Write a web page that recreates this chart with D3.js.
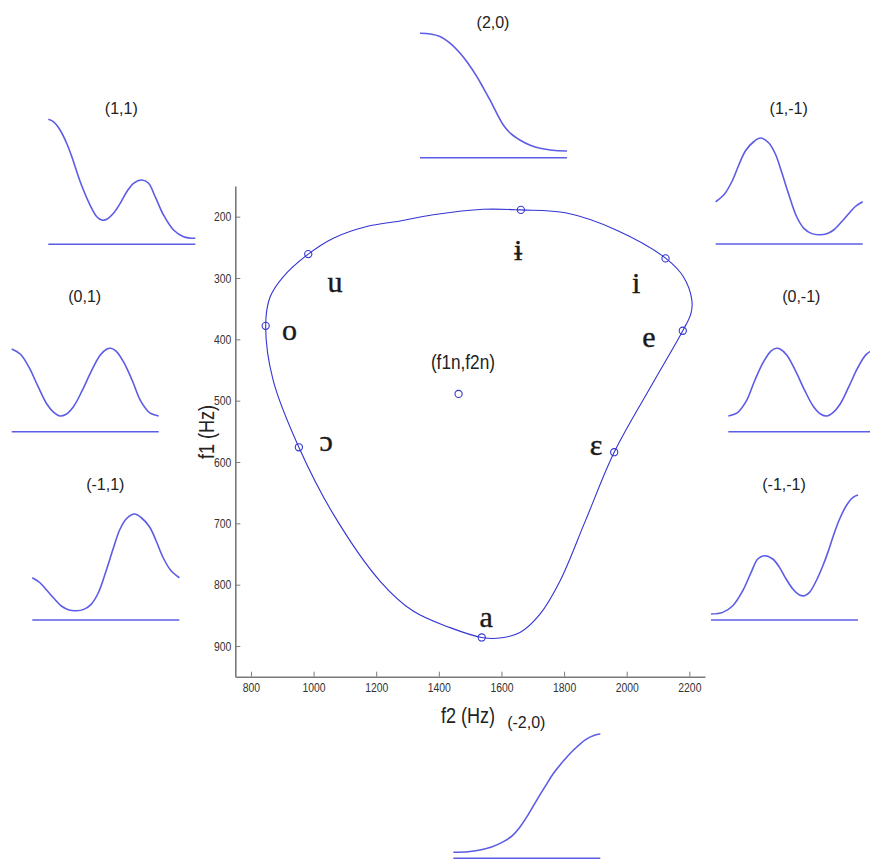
<!DOCTYPE html>
<html>
<head>
<meta charset="utf-8">
<script src="https://cdn.jsdelivr.net/npm/d3@7"></script>
<style>
  body { margin: 0; background: #fff; }
  svg { display: block; }
</style>
</head>
<body>
<svg id="chart" width="870" height="860"></svg>
<script>
// vowel space: f2 on x, f1 on y (inverted)
var xTicks = [800, 1000, 1200, 1400, 1600, 1800, 2000, 2200];
var yTicks = [200, 300, 400, 500, 600, 700, 800, 900];

// measured vowel points (circles), last one is the neutral (f1n,f2n)
var pointF2 = [1662, 983, 847, 953, 1537, 1960, 2179, 2124, 1463];
var pointF1 = [189, 261, 378, 576, 886, 584, 386, 268, 489];

// vowel labels
var vowelLabels = ["ɨ", "u", "i", "o", "e", "ɔ", "ɛ", "a"];
var labelF2 = [1653, 1068, 2030, 923, 2071, 1040, 1902, 1551];
var labelF1 = [271, 323, 325, 401, 412, 582, 588, 869];
var centreLabel = "(f1n,f2n)";
var centreF2 = 1477, centreF1 = 448;

// closed contour traced round the vowels (clockwise from the top)
var contourF2 = [1662, 1808, 1968, 2125, 2181, 2208, 2205, 2179, 2085, 1960, 1868, 1787, 1723, 1659, 1595,
                 1537, 1436, 1318, 1212, 1063, 953, 871, 847, 861, 903, 983, 1063, 1170, 1276, 1382, 1542];
var contourF1 = [189, 194, 222, 268, 298, 336, 358, 386, 470, 584, 696, 794, 848, 878, 887,
                 886, 870, 843, 794, 685, 576, 467, 378, 331, 298, 261, 235, 216, 207, 197, 188];

// small spectral shapes around the chart: [position 0..1, level 0..1]
var panelTitles = ["(2,0)", "(1,1)", "(1,-1)", "(0,1)", "(0,-1)", "(-1,1)", "(-1,-1)", "(-2,0)"];
var curve20 = [[0, .995], [.07, .99], [.136, .97], [.2, .92], [.273, .835], [.33, .75], [.386, .65], [.43, .56],
               [.477, .46], [.52, .36], [.568, .26], [.62, .19], [.682, .14], [.75, .10], [.818, .075], [.9, .06], [1, .054]];
var curve11 = [[0, 1], [.034, .981], [.08, .914], [.125, .808], [.16, .70], [.205, .541], [.239, .434], [.284, .314],
               [.33, .221], [.364, .194], [.398, .2], [.443, .248], [.489, .328], [.534, .421], [.58, .488], [.637, .514],
               [.682, .488], [.727, .381], [.784, .234], [.852, .114], [.92, .061], [1, .048]];
var curve1m1 = [[0, .338], [.06, .40], [.113, .506], [.16, .64], [.203, .746], [.26, .82], [.305, .848], [.36, .81],
                [.406, .72], [.45, .57], [.496, .4], [.55, .22], [.6, .125], [.65, .085], [.7, .074], [.75, .08],
                [.8, .11], [.85, .17], [.903, .24], [.95, .30], [1, .338]];
var curve01 = [[0, .662], [.06, .62], [.12, .51], [.18, .36], [.24, .22], [.29, .15], [.327, .126], [.37, .14],
               [.42, .2], [.48, .33], [.54, .48], [.6, .61], [.645, .66], [.673, .667], [.71, .645], [.76, .56],
               [.82, .41], [.88, .24], [.94, .15], [1, .126]];
var curve0m1 = [[0, .126], [.06, .15], [.12, .24], [.18, .41], [.24, .56], [.29, .645], [.327, .667], [.355, .66],
                [.4, .61], [.46, .48], [.52, .33], [.58, .2], [.63, .14], [.673, .126], [.71, .15], [.76, .22],
                [.82, .36], [.88, .51], [.94, .62], [1, .662]];
var curvem11 = [[0, .338], [.05, .30], [.097, .24], [.15, .17], [.2, .11], [.25, .08], [.3, .074], [.35, .085],
                [.4, .125], [.45, .22], [.504, .4], [.55, .57], [.594, .72], [.64, .81], [.695, .848], [.74, .82],
                [.797, .746], [.84, .64], [.887, .506], [.94, .40], [1, .338]];
var curvem1m1 = [[0, .048], [.08, .061], [.148, .114], [.216, .234], [.273, .381], [.318, .488], [.363, .514],
                 [.42, .488], [.466, .421], [.511, .328], [.557, .248], [.602, .2], [.636, .194], [.67, .221],
                 [.716, .314], [.761, .434], [.795, .541], [.84, .70], [.875, .808], [.92, .914], [.966, .981], [1, 1]];
var curvem20 = [[0, .048], [.1, .052], [.182, .066], [.26, .09], [.341, .133], [.4, .18], [.455, .253], [.51, .35],
                [.568, .466], [.625, .575], [.682, .68], [.75, .78], [.818, .866], [.9, .95], [.96, .985], [1, .994]];
var panelCurves = [curve20, curve11, curve1m1, curve01, curve0m1, curvem11, curvem1m1, curvem20];

var svg = d3.select("#chart");
var blue = "#3434d4", lightBlue = "#5c5ce6";
var sans = "'Liberation Sans', Arial, sans-serif";
var serif = "'Liberation Serif', 'DejaVu Serif', 'Times New Roman', serif";

// the original text is horizontally squeezed
function squeeze(sel, k) {
    sel.each(function () {
        var len = this.getComputedTextLength();
        d3.select(this).attr("textLength", len * k).attr("lengthAdjust", "spacingAndGlyphs");
    });
}

svg.append("rect").attr("width", 870).attr("height", 860).attr("fill", "#fff");

var x = d3.scaleLinear().domain([750, 2250]).range([235.3, 705]);
var y = d3.scaleLinear().domain([150, 950]).range([186, 676.7]);

var xAxis = svg.append("g")
    .attr("transform", "translate(0," + y(950) + ")")
    .call(d3.axisBottom(x).tickValues(xTicks).tickFormat(d3.format("d"))
        .tickSizeInner(-5).tickSizeOuter(0).tickPadding(6));
var yAxis = svg.append("g")
    .attr("transform", "translate(" + x(750) + ",0)")
    .call(d3.axisLeft(y).tickValues(yTicks).tickFormat(d3.format("d"))
        .tickSizeInner(-5).tickSizeOuter(0).tickPadding(4));

[xAxis, yAxis].forEach(function (a) {
    a.select(".domain").attr("stroke", "#7a7a7a").attr("stroke-width", 1.6);
    a.selectAll(".tick line").attr("stroke", "#7a7a7a");
    a.selectAll(".tick text").attr("fill", "#333").style("font-family", sans).style("font-size", "13px")
        .call(squeeze, 0.8);
});

svg.append("text")
    .attr("x", 468).attr("y", 723)
    .attr("text-anchor", "middle")
    .style("font-family", sans).style("font-size", "22px").attr("fill", "#222")
    .text("f2 (Hz)")
    .call(squeeze, 0.82);

svg.append("text")
    .attr("transform", "translate(214,432) rotate(-90)")
    .attr("text-anchor", "middle")
    .style("font-family", sans).style("font-size", "22px").attr("fill", "#222")
    .text("f1 (Hz)")
    .call(squeeze, 0.82);

// contour
var contour = d3.line()
    .x(function (d) { return x(d[0]); })
    .y(function (d) { return y(d[1]); })
    .curve(d3.curveCatmullRomClosed.alpha(0.5));

svg.append("path")
    .datum(d3.zip(contourF2, contourF1))
    .attr("fill", "none")
    .attr("stroke", blue)
    .attr("stroke-width", 1.1)
    .attr("d", contour);

svg.selectAll("circle.pt")
    .data(d3.zip(pointF2, pointF1))
    .enter().append("circle")
    .attr("class", "pt")
    .attr("cx", function (d) { return x(d[0]); })
    .attr("cy", function (d) { return y(d[1]); })
    .attr("r", 3.6)
    .attr("fill", "none")
    .attr("stroke", blue)
    .attr("stroke-width", 1.1);

svg.selectAll("text.vowel")
    .data(d3.zip(vowelLabels, labelF2, labelF1))
    .enter().append("text")
    .attr("class", "vowel")
    .attr("x", function (d) { return x(d[1]); })
    .attr("y", function (d) { return y(d[2]); })
    .attr("text-anchor", "middle")
    .style("font-family", serif).style("font-size", "30px")
    .attr("fill", "#1a1a1a")
    .attr("stroke", "#1a1a1a").attr("stroke-width", 0.4)
    .text(function (d) { return d[0]; });

svg.append("text")
    .attr("x", x(centreF2)).attr("y", y(centreF1))
    .attr("text-anchor", "middle")
    .style("font-family", sans).style("font-size", "21px").attr("fill", "#222")
    .text(centreLabel)
    .call(squeeze, 0.82);

// panels
var panelLayout = [[420, 157.7], [48.3, 244.3], [715.7, 244], [11.7, 431.7],
                   [728.3, 431.7], [32.3, 620], [711, 620], [453.3, 858.3]];
var panelW = 147, panelH = 125;

panelTitles.forEach(function (title, i) {
    var x0 = panelLayout[i][0], base = panelLayout[i][1];
    var px = d3.scaleLinear().domain([0, 1]).range([x0, x0 + panelW]);
    var py = d3.scaleLinear().domain([0, 1]).range([base, base - panelH]);
    var g = svg.append("g");

    g.append("line")
        .attr("x1", px(0)).attr("x2", px(1))
        .attr("y1", py(0)).attr("y2", py(0))
        .attr("stroke", lightBlue).attr("stroke-width", 1.6);

    g.append("path")
        .datum(panelCurves[i])
        .attr("fill", "none")
        .attr("stroke", lightBlue)
        .attr("stroke-width", 1.6)
        .attr("d", d3.line()
            .x(function (d) { return px(d[0]); })
            .y(function (d) { return py(d[1]); })
            .curve(d3.curveCatmullRom.alpha(0.5)));

    g.append("text")
        .attr("x", x0 + 73).attr("y", base - 130)
        .attr("text-anchor", "middle")
        .style("font-family", sans).style("font-size", "16px").attr("fill", "#222")
        .text(title);
});
</script>
</body>
</html>
